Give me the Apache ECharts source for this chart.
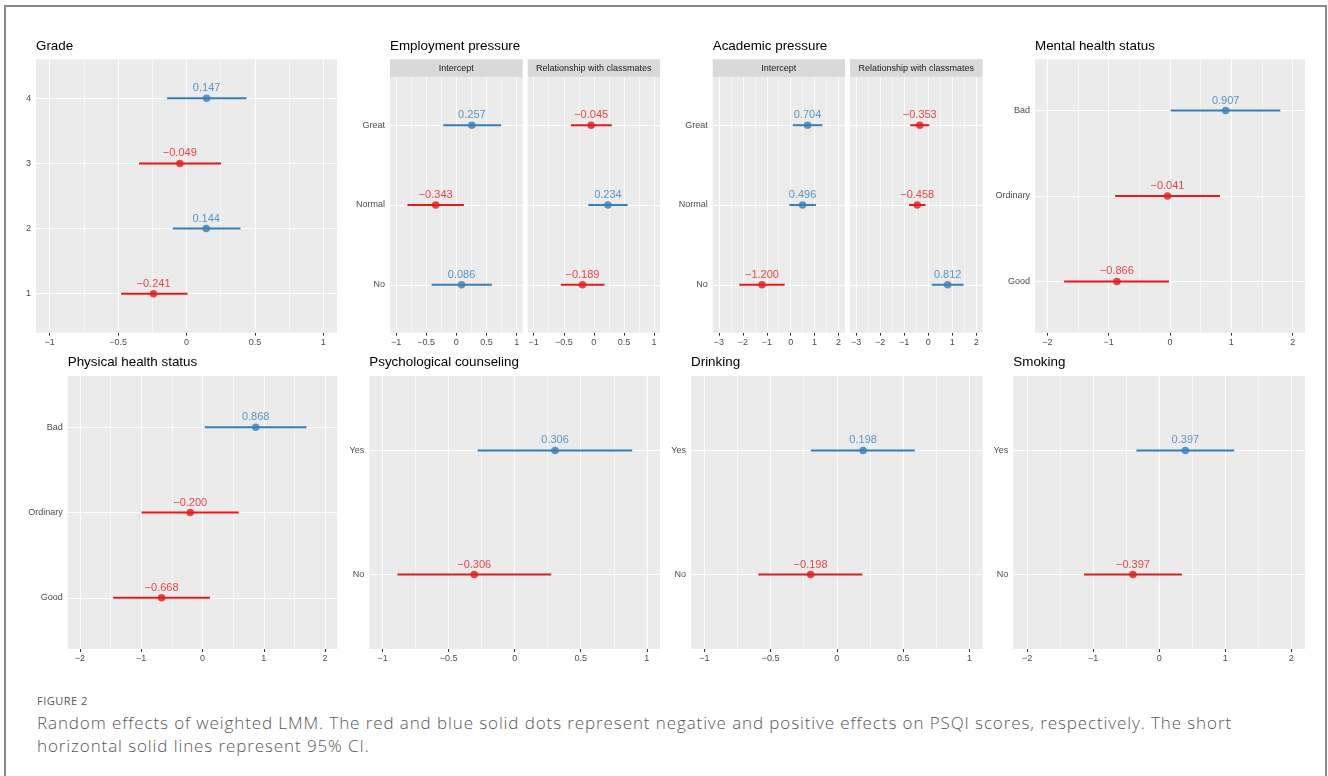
<!DOCTYPE html>
<html>
<head>
<meta charset="utf-8">
<script src="https://cdn.jsdelivr.net/npm/echarts@6/dist/echarts.min.js"></script>
<style>
  html, body { margin: 0; padding: 0; background: #fff; overflow: hidden; width: 1328px; height: 776px; }
  #frame { position: absolute; left: 4px; top: 5px; width: 1319px; height: 790px; border: 2px solid #8a8a8a; border-bottom: none; }
  #chart { position: absolute; left: 0; top: 0; width: 1328px; height: 690px; }
  #caption { position: absolute; left: 37px; top: 693px; font-family: 'Open Sans', 'Noto Sans', sans-serif; color: #575757; }
  #caption .fig { font-size: 11px; letter-spacing: 0.5px; line-height: 16px; }
  #caption .txt { font-size: 17px; line-height: 23px; font-weight: 300; letter-spacing: 0.9px; white-space: nowrap; margin-top: 2px; }
</style>
</head>
<body>
<div id="frame"></div>
<div id="chart"></div>
<div id="caption">
  <div class="fig">FIGURE 2</div>
  <div class="txt">Random effects of weighted LMM. The red and blue solid dots represent negative and positive effects on PSQI scores, respectively. The short<br>horizontal solid lines represent 95% CI.</div>
</div>
<script>
// ---- data: levels listed bottom to top, estimates with 95% CI bounds ----
const gradeCats = ['1', '2', '3', '4'];
const gradeEst  = [-0.241, 0.144, -0.049, 0.147];
const gradeLow  = [-0.478, -0.100, -0.347, -0.142];
const gradeHigh = [0.007, 0.395, 0.253, 0.439];

const pressureCats = ['No', 'Normal', 'Great'];
const empIntEst  = [0.086, -0.343, 0.257];
const empIntLow  = [-0.410, -0.811, -0.219];
const empIntHigh = [0.589, 0.125, 0.744];
const empRelEst  = [-0.189, 0.234, -0.045];
const empRelLow  = [-0.548, -0.092, -0.381];
const empRelHigh = [0.176, 0.560, 0.299];

const acaIntEst  = [-1.200, 0.496, 0.704];
const acaIntLow  = [-2.150, -0.055, 0.087];
const acaIntHigh = [-0.250, 1.051, 1.328];
const acaRelEst  = [0.812, -0.458, -0.353];
const acaRelLow  = [0.150, -0.800, -0.750];
const acaRelHigh = [1.471, -0.115, 0.045];

const healthCats = ['Good', 'Ordinary', 'Bad'];
const mentalEst  = [-0.866, -0.041, 0.907];
const mentalLow  = [-1.726, -0.895, 0.011];
const mentalHigh = [-0.016, 0.815, 1.798];
const physEst    = [-0.668, -0.200, 0.868];
const physLow    = [-1.458, -0.995, 0.036];
const physHigh   = [0.122, 0.590, 1.697];

const yesNoCats = ['No', 'Yes'];
const counselEst  = [-0.306, 0.306];
const counselLow  = [-0.887, -0.280];
const counselHigh = [0.277, 0.890];
const drinkEst  = [-0.198, 0.198];
const drinkLow  = [-0.592, -0.196];
const drinkHigh = [0.192, 0.588];
const smokeEst  = [-0.397, 0.397];
const smokeLow  = [-1.138, -0.344];
const smokeHigh = [0.344, 1.138];

// ---- axis breaks ----
const ticksUnit = [-1, -0.5, 0, 0.5, 1];
const minorUnit = [-0.75, -0.25, 0.25, 0.75];
const ticksTwo  = [-2, -1, 0, 1, 2];
const minorTwo  = [-1.5, -0.5, 0.5, 1.5];
const ticksAca  = [-3, -2, -1, 0, 1, 2];
const minorAca  = [-2.5, -1.5, -0.5, 0.5, 1.5];

// ---- styling ----
const RED = '#E41A1C';
const BLUE = '#377EB8';
const FONT = "'Liberation Sans', Arial, Helvetica, sans-serif";
const minus = s => String(s).replace('-', '\u2212');

// panel layout (pixels)
const ROW1_TOP = 59.3, ROW1_BOTTOM = 332.7, STRIP_H = 18;
const ROW2_TOP = 376, ROW2_BOTTOM = 649;

const panels = [
  { title: 'Grade', cats: gradeCats, est: gradeEst, low: gradeLow, high: gradeHigh,
    x0: 36, x1: 337, top: ROW1_TOP, bottom: ROW1_BOTTOM, range: [-1.1, 1.1], ticks: ticksUnit, minor: minorUnit, yLabels: true },
  { title: 'Employment pressure', strip: 'Intercept', cats: pressureCats, est: empIntEst, low: empIntLow, high: empIntHigh,
    x0: 390, x1: 522.7, top: ROW1_TOP + STRIP_H, bottom: ROW1_BOTTOM, range: [-1.1, 1.1], ticks: ticksUnit, minor: minorUnit, yLabels: true },
  { strip: 'Relationship with classmates', cats: pressureCats, est: empRelEst, low: empRelLow, high: empRelHigh,
    x0: 527.7, x1: 660, top: ROW1_TOP + STRIP_H, bottom: ROW1_BOTTOM, range: [-1.1, 1.1], ticks: ticksUnit, minor: minorUnit, yLabels: false },
  { title: 'Academic pressure', strip: 'Intercept', cats: pressureCats, est: acaIntEst, low: acaIntLow, high: acaIntHigh,
    x0: 712.7, x1: 845, top: ROW1_TOP + STRIP_H, bottom: ROW1_BOTTOM, range: [-3.26, 2.27], ticks: ticksAca, minor: minorAca, yLabels: true },
  { strip: 'Relationship with classmates', cats: pressureCats, est: acaRelEst, low: acaRelLow, high: acaRelHigh,
    x0: 850, x1: 982.7, top: ROW1_TOP + STRIP_H, bottom: ROW1_BOTTOM, range: [-3.26, 2.27], ticks: ticksAca, minor: minorAca, yLabels: false },
  { title: 'Mental health status', cats: healthCats, est: mentalEst, low: mentalLow, high: mentalHigh,
    x0: 1035, x1: 1305, top: ROW1_TOP, bottom: ROW1_BOTTOM, range: [-2.2, 2.2], ticks: ticksTwo, minor: minorTwo, yLabels: true },
  { title: 'Physical health status', cats: healthCats, est: physEst, low: physLow, high: physHigh,
    x0: 67.7, x1: 337.3, top: ROW2_TOP, bottom: ROW2_BOTTOM, range: [-2.2, 2.2], ticks: ticksTwo, minor: minorTwo, yLabels: true },
  { title: 'Psychological counseling', cats: yesNoCats, est: counselEst, low: counselLow, high: counselHigh,
    x0: 369.3, x1: 660, top: ROW2_TOP, bottom: ROW2_BOTTOM, range: [-1.1, 1.1], ticks: ticksUnit, minor: minorUnit, yLabels: true },
  { title: 'Drinking', cats: yesNoCats, est: drinkEst, low: drinkLow, high: drinkHigh,
    x0: 691, x1: 982.7, top: ROW2_TOP, bottom: ROW2_BOTTOM, range: [-1.1, 1.1], ticks: ticksUnit, minor: minorUnit, yLabels: true },
  { title: 'Smoking', cats: yesNoCats, est: smokeEst, low: smokeLow, high: smokeHigh,
    x0: 1013.3, x1: 1305, top: ROW2_TOP, bottom: ROW2_BOTTOM, range: [-2.21, 2.21], ticks: ticksTwo, minor: minorTwo, yLabels: true }
];

const grids = [], xAxes = [], yAxes = [], series = [], graphics = [];

panels.forEach((p, i) => {
  const n = p.cats.length;
  const yPos = p.cats.map((c, k) => k + 1);

  grids.push({
    left: p.x0, top: p.top, width: p.x1 - p.x0, height: p.bottom - p.top,
    show: true, backgroundColor: '#EBEBEB', borderWidth: 0, z: 0
  });

  xAxes.push({
    type: 'value', gridIndex: i, min: p.range[0], max: p.range[1],
    axisLine: { show: false },
    axisTick: { show: true, length: 3, lineStyle: { color: '#333333', width: 1 }, customValues: p.ticks },
    axisLabel: { show: true, customValues: p.ticks, formatter: v => minus(v), fontSize: 9, color: '#4D4D4D', margin: 5, fontFamily: FONT },
    splitLine: { show: false }
  });

  yAxes.push({
    type: 'value', gridIndex: i, min: 0.4, max: n + 0.6,
    axisLine: { show: false },
    axisTick: { show: p.yLabels, length: 3, lineStyle: { color: '#333333', width: 1 }, customValues: yPos },
    axisLabel: { show: p.yLabels, customValues: yPos, formatter: v => p.cats[Math.round(v) - 1], fontSize: 9, color: '#4D4D4D', margin: 5, fontFamily: FONT },
    splitLine: { show: false }
  });

  // panel grid lines, kept beneath the marks
  const lines = [];
  p.minor.forEach(v => lines.push({ xAxis: v, lineStyle: { color: '#FFFFFF', width: 0.55 } }));
  p.ticks.forEach(v => lines.push({ xAxis: v, lineStyle: { color: '#FFFFFF', width: 1.1 } }));
  yPos.forEach(v => lines.push({ yAxis: v, lineStyle: { color: '#FFFFFF', width: 1.1 } }));
  series.push({
    type: 'scatter', xAxisIndex: i, yAxisIndex: i, data: [], z: 1, silent: true,
    markLine: { z: 1, silent: true, symbol: ['none', 'none'], animation: false, label: { show: false },
      lineStyle: { type: 'solid' }, emphasis: { disabled: true }, data: lines }
  });

  // confidence intervals as thin filled bars
  series.push({
    type: 'custom', xAxisIndex: i, yAxisIndex: i, z: 3, silent: true,
    emphasis: { disabled: true },
    data: p.est.map((e, k) => [yPos[k], p.low[k], p.high[k], e]),
    encode: { x: [1, 2], y: 0 },
    renderItem: (params, api) => {
      const y = api.value(0);
      const a = api.coord([api.value(1), y]);
      const b = api.coord([api.value(2), y]);
      return { type: 'rect', shape: { x: a[0], y: a[1] - 1, width: b[0] - a[0], height: 2 },
        style: { fill: api.value(3) < 0 ? RED : BLUE, stroke: null, lineWidth: 0 } };
    }
  });

  // point estimates with value labels
  series.push({
    type: 'scatter', xAxisIndex: i, yAxisIndex: i, z: 4, silent: true, symbolSize: 7.5,
    emphasis: { disabled: true },
    data: p.est.map((e, k) => {
      const col = e < 0 ? RED : BLUE;
      return { value: [e, yPos[k]], itemStyle: { color: col }, label: { color: col } };
    }),
    label: { show: true, position: 'inside', offset: [0, -10], fontSize: 11, fontFamily: FONT,
      textBorderWidth: 0, formatter: prm => minus(prm.value[0].toFixed(3)) }
  });

  if (p.title) {
    graphics.push({ type: 'text', x: p.x0, y: p.top - (p.strip ? STRIP_H : 0) - 13.3,
      style: { text: p.title, font: '13.4px ' + FONT, fill: '#000000', align: 'left', verticalAlign: 'middle' } });
  }
  if (p.strip) {
    graphics.push({ type: 'rect', shape: { x: p.x0, y: p.top - STRIP_H, width: p.x1 - p.x0, height: STRIP_H },
      style: { fill: '#D9D9D9' } });
    graphics.push({ type: 'text', x: (p.x0 + p.x1) / 2, y: p.top - STRIP_H / 2,
      style: { text: p.strip, font: '9px ' + FONT, fill: '#1A1A1A', align: 'center', verticalAlign: 'middle' } });
  }
});

const chart = echarts.init(document.getElementById('chart'));
chart.setOption({
  animation: false,
  grid: grids,
  xAxis: xAxes,
  yAxis: yAxes,
  series: series,
  graphic: graphics
});
</script>
</body>
</html>
